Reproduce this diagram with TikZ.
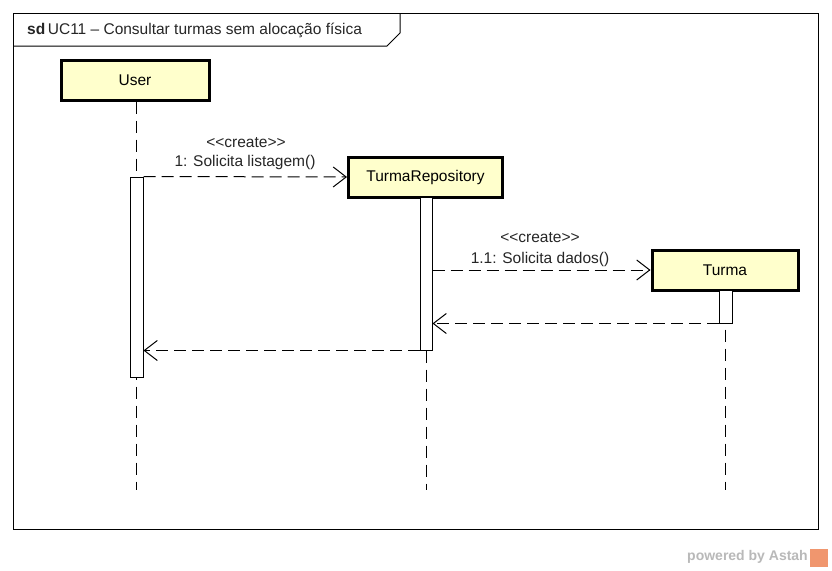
\documentclass[tikz,border=0pt]{standalone}
\usepackage{fontspec}
\setmainfont{Liberation Sans}
\usetikzlibrary{arrows.meta}
\definecolor{boxfill}{RGB}{255,255,204}
\definecolor{astahgray}{RGB}{185,185,185}
\definecolor{astahorange}{RGB}{240,150,110}
\tikzset{
  lifebox/.style={draw=black, line width=3pt, fill=boxfill, minimum height=40pt, inner sep=0pt, font=\fontsize{15.5}{18}\selectfont},
  actbox/.style={draw=black, line width=1pt, fill=white, inner sep=0pt, minimum width=13pt},
  lifeline/.style={draw=black, line width=1pt, dash pattern=on 12pt off 7pt},
  msg/.style={draw=black, line width=1pt, dash pattern=on 12pt off 6pt, -{Straight Barb[length=13pt,width=20pt,line width=1pt]}},
  lbl/.style={inner sep=0pt, font=\fontsize{15.5}{18}\selectfont, text=black!85},
}
\begin{document}
\begin{tikzpicture}[x=1pt,y=-1pt]
\useasboundingbox[fill=white] (0,0) rectangle (832,570);
% frame
\draw[line width=1pt] (13,13) rectangle (818,529);
\draw[line width=1pt] (13,46) -- (387,46) -- (400,33) -- (400,13);
\node[lbl, anchor=west] (title) at (27,30) {\textbf{sd}\,UC11 – Consultar turmas sem alocação física};

% lifeline heads
\node[lifebox, minimum width=148pt] (user) at (135,80) {User};
\node[lifebox, minimum width=154pt] (repo) at (425.5,177) {TurmaRepository};
\node[lifebox, minimum width=146pt] (turma) at (725,270) {Turma};

% lifeline ends
\coordinate (userEnd) at (136,490);
\coordinate (repoEnd) at (426,490);
\coordinate (turmaEnd) at (725.5,490);

\draw[lifeline] (user.south -| userEnd) -- (userEnd);
\draw[lifeline] (repo.south -| repoEnd) -- (repoEnd);
\draw[lifeline] (turma.south -| turmaEnd) -- (turmaEnd);

% activations
\node[actbox, minimum width=13pt, minimum height=200pt] (act1) at (136.5,277) {};
\node[actbox, minimum width=12pt, minimum height=153pt] (act2) at (426,273.5) {};
\node[actbox, minimum width=13pt, minimum height=33pt] (act3) at (725.5,306.5) {};

% messages
\draw[msg] (act1.north east) -- (repo.west);
\node[lbl] (m1a) at (246,143) {<{}<create>{}>};
\node[lbl] (m1b) at (245,162) {1: Solicita listagem()};

\draw[msg] (act2.east |- turma.west) -- (turma.west);
\node[lbl] (m2a) at (540,238) {<{}<create>{}>};
\node[lbl] (m2b) at (540,259) {1.1: Solicita dados()};

\draw[msg] (act3.south west) -- (act2.east |- act3.south);
\draw[msg] (act2.south west) -- (act1.east |- act2.south);

% powered by
\node[inner sep=0pt, anchor=east, text=astahgray, font=\fontsize{14}{16}\selectfont\bfseries] (pw) at (808,557) {powered by Astah};
\node[fill=astahorange, minimum size=18pt, inner sep=0pt, anchor=west] (logo) at (810,558) {};
\end{tikzpicture}
\end{document}
